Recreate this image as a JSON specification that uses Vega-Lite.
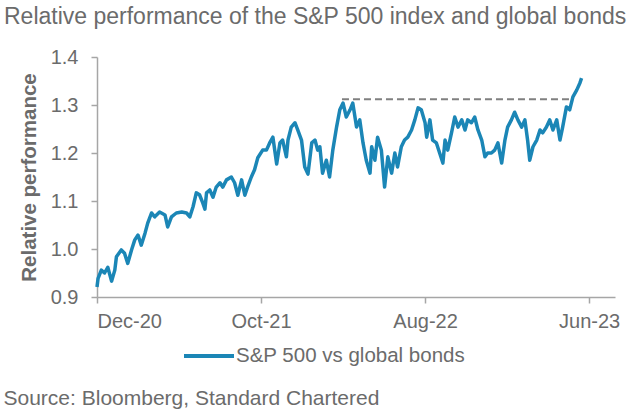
{
  "$schema": "https://vega.github.io/schema/vega-lite/v6.json",
  "width": 518,
  "height": 240,
  "autosize": {"type": "none"},
  "padding": {"left": 97, "top": 57, "right": 25, "bottom": 122},
  "background": "white",
  "title": {
    "text": "Relative performance of the S&P 500 index and global bonds",
    "anchor": "start",
    "frame": "group",
    "dx": -93,
    "offset": 0,
    "baseline": "alphabetic",
    "fontSize": 23,
    "fontWeight": "normal",
    "color": "#6b6b6b"
  },
  "config": {
    "font": "Liberation Sans",
    "view": {"stroke": null}
  },
  "layer": [
    {
      "data": {
        "values": [
          {"date": "2020-12-01", "value": 0.921},
          {"date": "2020-12-03", "value": 0.939},
          {"date": "2020-12-09", "value": 0.956},
          {"date": "2020-12-15", "value": 0.950},
          {"date": "2020-12-21", "value": 0.962},
          {"date": "2020-12-28", "value": 0.933},
          {"date": "2021-01-03", "value": 0.956},
          {"date": "2021-01-06", "value": 0.984},
          {"date": "2021-01-15", "value": 0.998},
          {"date": "2021-01-21", "value": 0.991},
          {"date": "2021-01-27", "value": 0.970},
          {"date": "2021-02-03", "value": 0.998},
          {"date": "2021-02-09", "value": 1.019},
          {"date": "2021-02-15", "value": 1.029},
          {"date": "2021-02-21", "value": 1.008},
          {"date": "2021-02-28", "value": 1.033},
          {"date": "2021-03-05", "value": 1.054},
          {"date": "2021-03-12", "value": 1.075},
          {"date": "2021-03-18", "value": 1.067},
          {"date": "2021-03-27", "value": 1.077},
          {"date": "2021-04-06", "value": 1.071},
          {"date": "2021-04-11", "value": 1.046},
          {"date": "2021-04-18", "value": 1.067},
          {"date": "2021-04-27", "value": 1.075},
          {"date": "2021-05-07", "value": 1.077},
          {"date": "2021-05-16", "value": 1.075},
          {"date": "2021-05-22", "value": 1.067},
          {"date": "2021-05-28", "value": 1.088},
          {"date": "2021-06-03", "value": 1.117},
          {"date": "2021-06-09", "value": 1.113},
          {"date": "2021-06-15", "value": 1.096},
          {"date": "2021-06-19", "value": 1.083},
          {"date": "2021-06-22", "value": 1.117},
          {"date": "2021-06-28", "value": 1.123},
          {"date": "2021-07-04", "value": 1.108},
          {"date": "2021-07-10", "value": 1.129},
          {"date": "2021-07-17", "value": 1.138},
          {"date": "2021-07-22", "value": 1.129},
          {"date": "2021-07-29", "value": 1.144},
          {"date": "2021-08-07", "value": 1.150},
          {"date": "2021-08-13", "value": 1.138},
          {"date": "2021-08-19", "value": 1.112},
          {"date": "2021-08-26", "value": 1.144},
          {"date": "2021-09-01", "value": 1.112},
          {"date": "2021-09-06", "value": 1.129},
          {"date": "2021-09-13", "value": 1.150},
          {"date": "2021-09-19", "value": 1.165},
          {"date": "2021-09-25", "value": 1.190},
          {"date": "2021-10-04", "value": 1.206},
          {"date": "2021-10-11", "value": 1.206},
          {"date": "2021-10-17", "value": 1.221},
          {"date": "2021-10-23", "value": 1.233},
          {"date": "2021-10-30", "value": 1.177},
          {"date": "2021-11-05", "value": 1.221},
          {"date": "2021-11-10", "value": 1.227},
          {"date": "2021-11-17", "value": 1.192},
          {"date": "2021-11-20", "value": 1.227},
          {"date": "2021-11-26", "value": 1.254},
          {"date": "2021-12-03", "value": 1.263},
          {"date": "2021-12-08", "value": 1.248},
          {"date": "2021-12-15", "value": 1.227},
          {"date": "2021-12-21", "value": 1.171},
          {"date": "2021-12-27", "value": 1.156},
          {"date": "2022-01-03", "value": 1.221},
          {"date": "2022-01-09", "value": 1.227},
          {"date": "2022-01-14", "value": 1.206},
          {"date": "2022-01-18", "value": 1.213},
          {"date": "2022-01-23", "value": 1.158},
          {"date": "2022-01-30", "value": 1.185},
          {"date": "2022-02-05", "value": 1.150},
          {"date": "2022-02-11", "value": 1.206},
          {"date": "2022-02-18", "value": 1.254},
          {"date": "2022-02-24", "value": 1.290},
          {"date": "2022-03-02", "value": 1.304},
          {"date": "2022-03-08", "value": 1.275},
          {"date": "2022-03-15", "value": 1.290},
          {"date": "2022-03-20", "value": 1.304},
          {"date": "2022-03-27", "value": 1.254},
          {"date": "2022-04-02", "value": 1.269},
          {"date": "2022-04-08", "value": 1.221},
          {"date": "2022-04-14", "value": 1.185},
          {"date": "2022-04-21", "value": 1.158},
          {"date": "2022-04-24", "value": 1.213},
          {"date": "2022-04-30", "value": 1.185},
          {"date": "2022-05-05", "value": 1.233},
          {"date": "2022-05-12", "value": 1.206},
          {"date": "2022-05-18", "value": 1.129},
          {"date": "2022-05-24", "value": 1.192},
          {"date": "2022-05-31", "value": 1.158},
          {"date": "2022-06-06", "value": 1.200},
          {"date": "2022-06-11", "value": 1.171},
          {"date": "2022-06-18", "value": 1.213},
          {"date": "2022-06-24", "value": 1.227},
          {"date": "2022-06-30", "value": 1.233},
          {"date": "2022-07-07", "value": 1.248},
          {"date": "2022-07-13", "value": 1.269},
          {"date": "2022-07-19", "value": 1.294},
          {"date": "2022-07-25", "value": 1.290},
          {"date": "2022-08-01", "value": 1.263},
          {"date": "2022-08-04", "value": 1.233},
          {"date": "2022-08-10", "value": 1.269},
          {"date": "2022-08-15", "value": 1.227},
          {"date": "2022-08-22", "value": 1.221},
          {"date": "2022-08-28", "value": 1.200},
          {"date": "2022-09-03", "value": 1.179},
          {"date": "2022-09-07", "value": 1.227},
          {"date": "2022-09-12", "value": 1.206},
          {"date": "2022-09-19", "value": 1.242},
          {"date": "2022-09-25", "value": 1.275},
          {"date": "2022-10-01", "value": 1.254},
          {"date": "2022-10-08", "value": 1.269},
          {"date": "2022-10-14", "value": 1.248},
          {"date": "2022-10-19", "value": 1.269},
          {"date": "2022-10-26", "value": 1.263},
          {"date": "2022-11-01", "value": 1.275},
          {"date": "2022-11-07", "value": 1.248},
          {"date": "2022-11-14", "value": 1.227},
          {"date": "2022-11-20", "value": 1.192},
          {"date": "2022-11-25", "value": 1.200},
          {"date": "2022-12-02", "value": 1.200},
          {"date": "2022-12-08", "value": 1.206},
          {"date": "2022-12-14", "value": 1.221},
          {"date": "2022-12-21", "value": 1.179},
          {"date": "2022-12-27", "value": 1.227},
          {"date": "2023-01-01", "value": 1.254},
          {"date": "2023-01-08", "value": 1.269},
          {"date": "2023-01-14", "value": 1.285},
          {"date": "2023-01-20", "value": 1.269},
          {"date": "2023-01-27", "value": 1.254},
          {"date": "2023-02-02", "value": 1.269},
          {"date": "2023-02-07", "value": 1.227},
          {"date": "2023-02-11", "value": 1.185},
          {"date": "2023-02-17", "value": 1.213},
          {"date": "2023-02-24", "value": 1.227},
          {"date": "2023-03-02", "value": 1.248},
          {"date": "2023-03-07", "value": 1.242},
          {"date": "2023-03-14", "value": 1.254},
          {"date": "2023-03-20", "value": 1.269},
          {"date": "2023-03-26", "value": 1.248},
          {"date": "2023-04-02", "value": 1.269},
          {"date": "2023-04-08", "value": 1.227},
          {"date": "2023-04-13", "value": 1.254},
          {"date": "2023-04-20", "value": 1.296},
          {"date": "2023-04-26", "value": 1.290},
          {"date": "2023-05-02", "value": 1.317},
          {"date": "2023-05-09", "value": 1.331},
          {"date": "2023-05-15", "value": 1.346},
          {"date": "2023-05-18", "value": 1.356}
        ]
      },
      "mark": {"type": "line", "strokeWidth": 3.5, "strokeJoin": "round"},
      "encoding": {
        "x": {
          "field": "date",
          "type": "temporal",
          "scale": {
            "type": "utc",
            "domain": [
              {"year": 2020, "month": 12, "date": 1, "utc": true},
              {"year": 2023, "month": 7, "date": 19, "utc": true}
            ]
          },
          "axis": {
            "values": [
              {"year": 2020, "month": 12, "date": 1, "utc": true},
              {"year": 2021, "month": 10, "date": 1, "utc": true},
              {"year": 2022, "month": 8, "date": 1, "utc": true},
              {"year": 2023, "month": 6, "date": 1, "utc": true}
            ],
            "labelExpr": "utcFormat(datum.value, '%b-%y')",
            "grid": false,
            "domainColor": "#a6a6a6",
            "domainWidth": 1.5,
            "tickColor": "#a6a6a6",
            "tickWidth": 1.5,
            "tickSize": 6,
            "labelFontSize": 20,
            "labelColor": "#6b6b6b",
            "labelPadding": 8,
            "title": "Source: Bloomberg, Standard Chartered",
            "titleAnchor": "start",
            "titleAlign": "left",
            "titleX": -94,
            "titleY": 101,
            "titleBaseline": "middle",
            "titleFontSize": 21,
            "titleFontWeight": "normal",
            "titleColor": "#6b6b6b"
          }
        },
        "y": {
          "field": "value",
          "type": "quantitative",
          "scale": {"domain": [0.9, 1.4], "nice": false, "zero": false},
          "axis": {
            "values": [0.9, 1.0, 1.1, 1.2, 1.3, 1.4],
            "format": ".1f",
            "grid": false,
            "domainColor": "#a6a6a6",
            "domainWidth": 1.5,
            "tickColor": "#a6a6a6",
            "tickWidth": 1.5,
            "tickSize": 6,
            "labelFontSize": 20,
            "labelColor": "#6b6b6b",
            "labelPadding": 13,
            "title": "Relative performance",
            "titleFontSize": 20.5,
            "titleFontWeight": "bold",
            "titleColor": "#6b6b6b",
            "titlePadding": 11
          }
        },
        "color": {
          "datum": "S&P 500 vs global bonds",
          "type": "nominal",
          "scale": {"range": ["#1b86b6"]},
          "legend": {
            "title": null,
            "orient": "none",
            "legendX": 85,
            "legendY": 272,
            "symbolType": "stroke",
            "symbolSize": 2500,
            "symbolStrokeWidth": 4,
            "labelFontSize": 20.5,
            "labelColor": "#6b6b6b",
            "labelLimit": 500,
            "labelOffset": 0
          }
        }
      }
    },
    {
      "data": {
        "values": [
          {"start": "2022-02-28", "end": "2023-04-26", "level": 1.312}
        ]
      },
      "mark": {"type": "rule", "strokeDash": [7, 4], "strokeWidth": 2, "color": "#808080"},
      "encoding": {
        "x": {"field": "start", "type": "temporal"},
        "x2": {"field": "end"},
        "y": {"field": "level", "type": "quantitative"}
      }
    }
  ]
}
